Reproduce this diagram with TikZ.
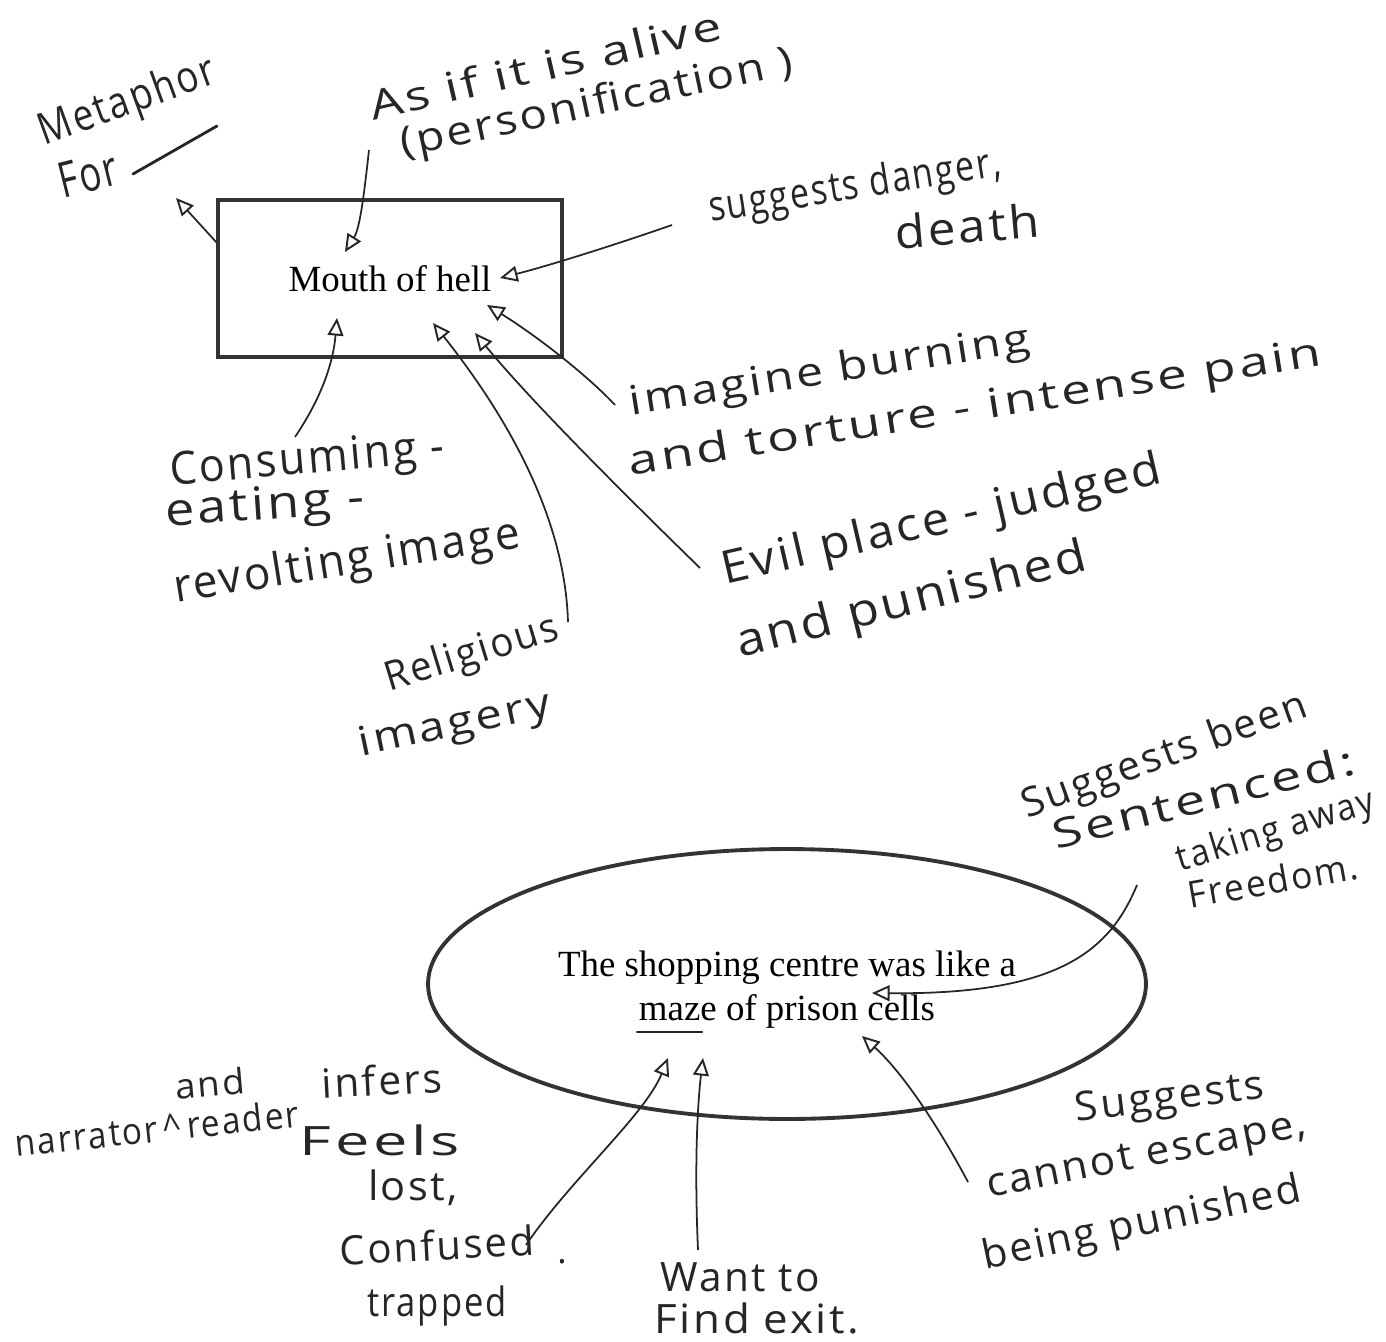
\documentclass[tikz,border=0pt]{standalone}
\usepackage{fontspec}
\setmainfont{Liberation Serif}
\newfontfamily\hwfont{Open Sans}[LetterSpace=6]
\usetikzlibrary{arrows.meta,shapes.geometric}
\newlength\hwunit
\setlength\hwunit{0.02cm}
\newcommand\hwt[3][23]{\resizebox{#2\hwunit}{\height}{\hwfont\fontsize{#1}{#1}\selectfont #3}}
\begin{document}
\begin{tikzpicture}[x=0.02cm,y=-0.02cm,
  hw/.style={inner sep=0pt, text=black!85},
  printed/.style={font=\fontsize{21}{25}\selectfont, text=black},
  frame/.style={draw=black!80, line width=2.2pt},
  arr/.style={line width=1pt, draw=black!85,
    -{Triangle[open,length=10pt,width=9pt,line width=1.1pt]}},
  pen/.style={line width=1.6pt, draw=black!85, line cap=round}]
\useasboundingbox[fill=white] (0,0) rectangle (1386,1342);

% main shapes
\node[frame, printed, minimum width=6.88cm, minimum height=3.14cm] (mouth) at (390,278.5) {Mouth of hell};
\node[frame, ellipse, minimum width=14.36cm, minimum height=5.4cm, inner sep=0pt] (shop) at (787,984) {};
\node[printed, align=center, inner sep=0pt] (shoptxt) at (787,990)
  {The shopping centre was like a\\maze of prison cells};

% handwritten notes, top part
\node[hw, rotate=20] (met) at (128,103) {\hwt[25]{185}{Metaphor}};
\node[hw, rotate=14] (for) at (88,174) {\hwt[28]{60}{For}};
\node[hw, rotate=13] (alive) at (545,65) {\hwt{360}{As if it is alive}};
\node[hw, rotate=12] (pers) at (597,105) {\hwt{400}{(personification )}};
\node[hw, rotate=9] (sug) at (855,188) {\hwt[24]{295}{suggests danger,}};
\node[hw, rotate=5] (death) at (967,226) {\hwt[26]{145}{death}};
\node[hw, rotate=9] (burn) at (830,373) {\hwt{405}{imagine burning}};
\node[hw, rotate=9] (tort) at (975,410) {\hwt{700}{and torture - intense pain}};
\node[hw, rotate=5] (cons) at (307,462) {\hwt[26]{275}{Consuming -}};
\node[hw, rotate=4] (eat) at (265,508) {\hwt[26]{200}{eating -}};
\node[hw, rotate=9] (rev) at (347,563) {\hwt[26]{350}{revolting image}};
\node[hw, rotate=17] (rel) at (472,655) {\hwt{180}{Religious}};
\node[hw, rotate=12] (imag) at (455,726) {\hwt{195}{imagery}};
\node[hw, rotate=13] (evil) at (942,522) {\hwt[26]{450}{Evil place - judged}};
\node[hw, rotate=14] (pun) at (912,602) {\hwt[26]{360}{and punished}};

% handwritten notes, bottom part
\node[hw, rotate=20] (been) at (1165,757) {\hwt{300}{Suggests been}};
\node[hw, rotate=14] (sent) at (1203,797) {\hwt{310}{Sentenced:}};
\node[hw, rotate=17] (take) at (1276,832) {\hwt[21]{205}{taking away}};
\node[hw, rotate=10] (free) at (1273,880) {\hwt[21]{172}{Freedom.}};
\node[hw, rotate=5] (and) at (210,1083) {\hwt[20]{70}{and}};
\node[hw, rotate=6] (narr) at (157,1128) {\hwt[21]{285}{narrator\,\textasciicircum\,reader}};
\node[hw, rotate=3] (inf) at (382,1080) {\hwt{120}{infers}};
\node[hw] (feel) at (380,1140) {\hwt{160}{Feels}};
\node[hw] (lost) at (413,1188) {\hwt{90}{lost,}};
\node[hw, rotate=3] (conf) at (437,1245) {\hwt{195}{Confused}};
\node[hw] (trap) at (437,1306) {\hwt{140}{trapped}};
\node[hw, font=\hwfont\fontsize{20}{20}\selectfont] (dot) at (562,1262) {.};
\node[hw] (want) at (740,1277) {\hwt{160}{Want to}};
\node[hw] (find) at (757,1318) {\hwt{205}{Find exit.}};
\node[hw, rotate=7] (sug2) at (1170,1100) {\hwt{190}{Suggests}};
\node[hw, rotate=11] (esc) at (1147,1158) {\hwt{325}{cannot escape,}};
\node[hw, rotate=12] (bp) at (1142,1225) {\hwt{325}{being punished}};

% connector end points
\coordinate (forA) at (133,174);  \coordinate (forB) at (217,126);
\coordinate (a1s) at (217,243);   \coordinate (a1e) at (176,198);
\coordinate (a2s) at (369,150);   \coordinate (a2e) at (345,252);
\coordinate (a3s) at (672,225);   \coordinate (a3e) at (500,278);
\coordinate (a4s) at (615,405);   \coordinate (a4e) at (487,305);
\coordinate (a5s) at (295,437);   \coordinate (a5e) at (337,318);
\coordinate (a6s) at (568,622);   \coordinate (a6e) at (433,323);
\coordinate (a7s) at (700,568);   \coordinate (a7e) at (475,333);
\coordinate (a8s) at (1137,885);  \coordinate (a8e) at (872,993);
\coordinate (a9s) at (968,1182);  \coordinate (a9e) at (862,1036);
\coordinate (a10s) at (698,1250); \coordinate (a10e) at (703,1058);
\coordinate (a11s) at (526,1245); \coordinate (a11e) at (668,1058);
\coordinate (ulA) at (637,1032);  \coordinate (ulB) at (702,1032);

% blank after "For" and underline of "maze"
\draw[pen] (forA) -- (forB);
\draw[pen, line width=1.4pt] (ulA) -- (ulB);

% arrows
\draw[arr] (a1s) -- (a1e);
\draw[arr] (a2s) .. controls (364,195) and (360,228) .. (a2e);
\draw[arr] (a3s) .. controls (600,250) and (540,268) .. (a3e);
\draw[arr] (a4s) .. controls (590,378) and (540,338) .. (a4e);
\draw[arr] (a5s) .. controls (320,400) and (333,365) .. (a5e);
\draw[arr] (a6s) .. controls (565,520) and (510,420) .. (a6e);
\draw[arr] (a7s) .. controls (620,490) and (530,400) .. (a7e);
\draw[arr] (a8s) .. controls (1110,950) and (1060,995) .. (a8e);
\draw[arr] (a9s) .. controls (935,1120) and (900,1070) .. (a9e);
\draw[arr] (a10s) .. controls (694,1160) and (698,1100) .. (a10e);
\draw[arr] (a11s) .. controls (570,1180) and (645,1115) .. (a11e);
\end{tikzpicture}
\end{document}
